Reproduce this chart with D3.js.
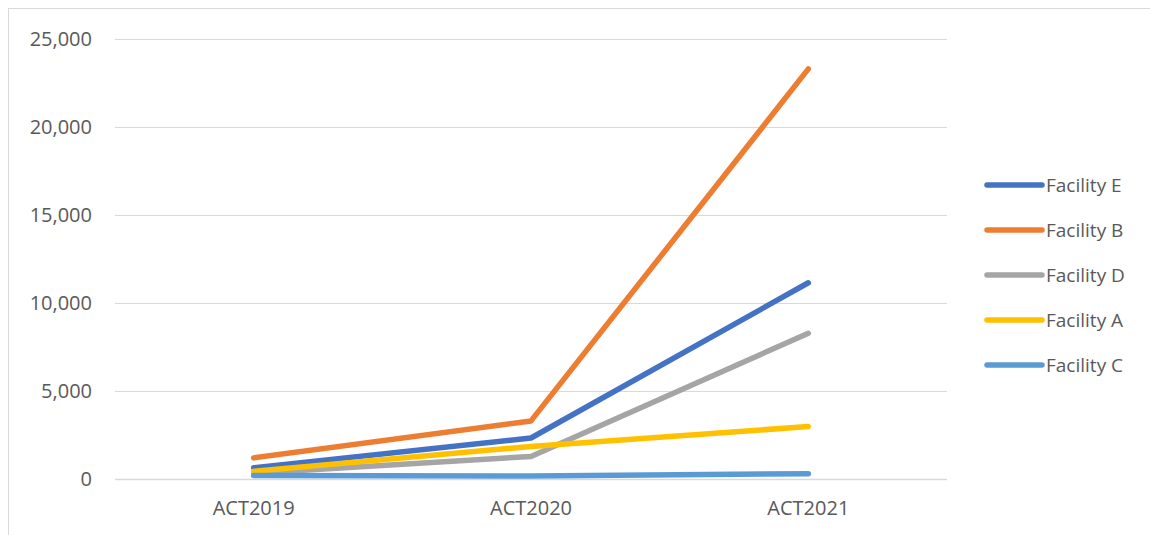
<!DOCTYPE html>
<html><head><meta charset="utf-8">
<script src="https://cdn.jsdelivr.net/npm/d3@7"></script>
<style>body{margin:0;background:#fff}svg{display:block}</style>
</head><body><svg id="c" width="1150" height="535"></svg>
<script>
const categories = ["ACT2019","ACT2020","ACT2021"];
const seriesNames = ["Facility E","Facility B","Facility D","Facility A","Facility C"];
const facilityE = [640, 2330, 11150];
const facilityB = [1200, 3300, 23300];
const facilityD = [330, 1280, 8280];
const facilityA = [440, 1850, 2980];
const facilityC = [200, 170, 300];
const yTicks = [0,5000,10000,15000,20000,25000];
const colors = ["#4472C4","#ED7D31","#A5A5A5","#FFC000","#5B9BD5"];
const seriesValues = [facilityE, facilityB, facilityD, facilityA, facilityC];

const svg = d3.select("#c");
const font = "'Open Sans', sans-serif";
svg.append("rect").attr("x",8.5).attr("y",8.5).attr("width",1160).attr("height",560)
  .attr("fill","#fff").attr("stroke","#d9d9d9").attr("stroke-width",1);

const x = d3.scaleBand().domain(categories).range([115,947]);
const y = d3.scaleLinear().domain([0,25000]).range([479,39]);

const grid = svg.append("g");
yTicks.forEach(t=>{
  grid.append("line").attr("x1",115).attr("x2",947).attr("y1",Math.round(y(t))+0.5).attr("y2",Math.round(y(t))+0.5)
    .attr("stroke","#d9d9d9").attr("stroke-width", t===0?1.5:1);
});
const yAxis = svg.append("g").attr("transform","translate(115,0)")
  .call(d3.axisLeft(y).tickValues(yTicks).tickFormat(d3.format(",")).tickSize(0).tickPadding(23));
yAxis.select(".domain").remove();
yAxis.selectAll("text").attr("font-family",font).attr("font-size","20px").attr("fill","#595959");

const xAxis = svg.append("g").attr("transform","translate(0,479)")
  .call(d3.axisBottom(x).tickSize(0).tickPadding(22));
xAxis.select(".domain").remove();
xAxis.selectAll("text").attr("font-family",font).attr("font-size","20px").attr("fill","#595959");

const line = d3.line().x((d,i)=>x(categories[i])+x.bandwidth()/2).y(d=>y(d));
seriesValues.forEach((vals,i)=>{
  svg.append("path").attr("d",line(vals)).attr("fill","none").attr("stroke",colors[i])
    .attr("stroke-width",5.5).attr("stroke-linecap","round").attr("stroke-linejoin","round");
});

const legY = d3.scalePoint().domain(seriesNames).range([185,365]);
seriesNames.forEach((n,i)=>{
  const g = svg.append("g");
  g.append("line").attr("x1",987).attr("x2",1042).attr("y1",legY(n)).attr("y2",legY(n))
    .attr("stroke",colors[i]).attr("stroke-width",5.5).attr("stroke-linecap","round");
  g.append("text").attr("x",1046).attr("y",legY(n)).attr("dy","0.35em").text(n)
    .attr("font-family",font).attr("font-size","19px").attr("fill","#595959");
});
</script></body></html>
